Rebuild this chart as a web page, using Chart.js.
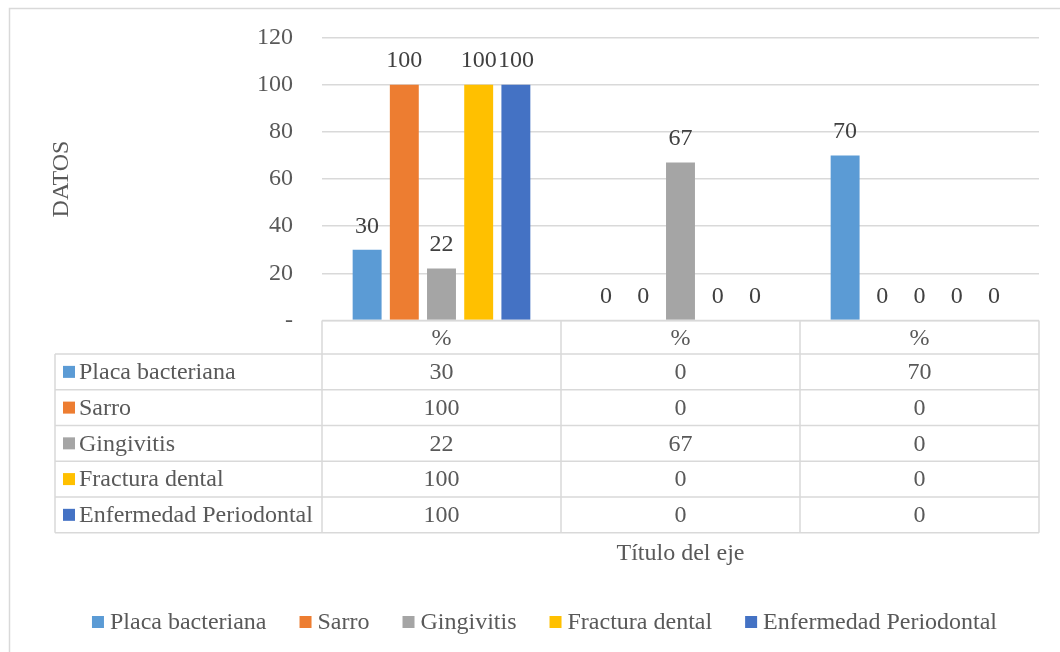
<!DOCTYPE html>
<html>
<head>
<meta charset="utf-8">
<script src="https://cdn.jsdelivr.net/npm/chart.js@4.4.1/dist/chart.umd.min.js"></script>
<style>
  html, body { margin: 0; padding: 0; background: #ffffff; }
  #wrap { width: 1060px; height: 652px; position: relative; }
</style>
</head>
<body>
<div id="wrap"><canvas id="c" width="1060" height="652"></canvas></div>
<script>
const categories = ['%', '%', '%'];
const seriesNames = ['Placa bacteriana', 'Sarro', 'Gingivitis', 'Fractura dental', 'Enfermedad Periodontal'];
const placaBacteriana = [30, 0, 70];
const sarro = [100, 0, 0];
const gingivitis = [22, 67, 0];
const fracturaDental = [100, 0, 0];
const enfermedadPeriodontal = [100, 0, 0];
const seriesColors = ['#5B9BD5', '#ED7D31', '#A5A5A5', '#FFC000', '#4472C4'];
const yTickValues = [0, 20, 40, 60, 80, 100, 120];
const yTickLabels = ['-', '20', '40', '60', '80', '100', '120'];
const yTitle = 'DATOS';
const xTitle = 'Título del eje';

const seriesValues = [placaBacteriana, sarro, gingivitis, fracturaDental, enfermedadPeriodontal];
const FONT = '"Liberation Serif", "Times New Roman", serif';
const FS = 24;
const TEXT = '#595959';
const LABEL = '#404040';
const LINE = '#D9D9D9';

const extras = {
  id: 'extras',
  beforeDraw(chart) {
    const ctx = chart.ctx;
    ctx.save();
    ctx.fillStyle = '#ffffff';
    ctx.fillRect(0, 0, chart.width, chart.height);
    ctx.strokeStyle = LINE;
    ctx.lineWidth = 1.5;
    ctx.strokeRect(9.5, 8.5, 1080, 680);
    ctx.restore();
  },
  afterDatasetsDraw(chart) {
    const ctx = chart.ctx;
    ctx.save();
    ctx.font = FS + 'px ' + FONT;
    ctx.fillStyle = LABEL;
    ctx.textAlign = 'center';
    ctx.textBaseline = 'middle';
    chart.data.datasets.forEach((ds, di) => {
      const meta = chart.getDatasetMeta(di);
      meta.data.forEach((el, i) => {
        ctx.fillText(String(ds.data[i]), el.x, el.y - 23.5);
      });
    });
    ctx.restore();
  },
  afterDraw(chart) {
    const ctx = chart.ctx;
    const xs = chart.scales.x;
    const area = chart.chartArea;
    const n = categories.length;
    const colW = (area.right - area.left) / n;
    const top = area.bottom;
    const headerBottom = top + 33.5;
    const rowH = 35.74;
    const tableBottom = headerBottom + rowH * seriesNames.length;
    const leftX = 55;
    ctx.save();
    ctx.strokeStyle = LINE;
    ctx.lineWidth = 1.5;
    ctx.beginPath();
    ctx.moveTo(area.left, top); ctx.lineTo(area.right, top);
    ctx.moveTo(area.right, top); ctx.lineTo(area.right, tableBottom);
    ctx.moveTo(area.left, top); ctx.lineTo(area.left, tableBottom);
    ctx.moveTo(leftX, headerBottom); ctx.lineTo(area.right, headerBottom);
    ctx.moveTo(leftX, headerBottom); ctx.lineTo(leftX, tableBottom);
    for (let c = 1; c < n; c++) {
      const x = area.left + colW * c;
      ctx.moveTo(x, top); ctx.lineTo(x, tableBottom);
    }
    for (let r = 1; r <= seriesNames.length; r++) {
      const y = headerBottom + rowH * r;
      ctx.moveTo(leftX, y); ctx.lineTo(area.right, y);
    }
    ctx.stroke();

    ctx.font = FS + 'px ' + FONT;
    ctx.fillStyle = TEXT;
    ctx.textBaseline = 'middle';
    ctx.textAlign = 'center';
    categories.forEach((c, i) => {
      ctx.fillText(c, xs.getPixelForValue(i), (top + headerBottom) / 2 + 1);
    });
    seriesNames.forEach((name, r) => {
      const cy = headerBottom + rowH * (r + 0.5) + 1;
      ctx.fillStyle = seriesColors[r];
      ctx.fillRect(63, cy - 7, 12, 12);
      ctx.fillStyle = TEXT;
      ctx.textAlign = 'left';
      ctx.fillText(name, 79, cy);
      ctx.textAlign = 'center';
      seriesValues[r].forEach((v, i) => {
        ctx.fillText(String(v), xs.getPixelForValue(i), cy);
      });
    });

    ctx.fillText(xTitle, (area.left + area.right) / 2, 554);

    const boxGap = 6, itemGap = 33, box = 12;
    const widths = seriesNames.map(s => box + boxGap + ctx.measureText(s).width);
    const total = widths.reduce((a, b) => a + b, 0) + itemGap * (widths.length - 1);
    let x = 544.5 - total / 2;
    const ly = 622;
    seriesNames.forEach((s, i) => {
      ctx.fillStyle = seriesColors[i];
      ctx.fillRect(x, ly - 6, box, box);
      ctx.fillStyle = TEXT;
      ctx.textAlign = 'left';
      ctx.fillText(s, x + box + boxGap, ly + 1);
      x += widths[i] + itemGap;
    });
    ctx.restore();
  }
};

new Chart(document.getElementById('c'), {
  type: 'bar',
  data: {
    labels: categories,
    datasets: seriesNames.map((name, i) => ({
      label: name,
      data: seriesValues[i],
      backgroundColor: seriesColors[i],
      borderWidth: 0,
      categoryPercentage: 0.778,
      barPercentage: 0.778
    }))
  },
  options: {
    responsive: false,
    animation: false,
    devicePixelRatio: 1,
    layout: { padding: { left: 0, right: 21, top: 37.5, bottom: 331.5 } },
    plugins: { legend: { display: false }, tooltip: { enabled: false } },
    scales: {
      x: { display: false },
      y: {
        min: 0, max: 120,
        afterBuildTicks(scale) { scale.ticks = yTickValues.map(v => ({ value: v })); },
        afterFit(scale) {
          scale.width = 322;
          scale.paddingTop = 0;
          scale.paddingBottom = 0;
        },
        ticks: {
          padding: 29,
          color: TEXT,
          font: { family: FONT, size: FS },
          callback: (v) => yTickLabels[yTickValues.indexOf(v)]
        },
        grid: { color: LINE, lineWidth: 1.5, drawTicks: false },
        border: { display: false },
        title: {
          display: true, text: yTitle, color: TEXT,
          font: { family: FONT, size: FS },
          padding: { top: 47, bottom: 0 }
        }
      }
    }
  },
  plugins: [extras]
});
</script>
</body>
</html>
